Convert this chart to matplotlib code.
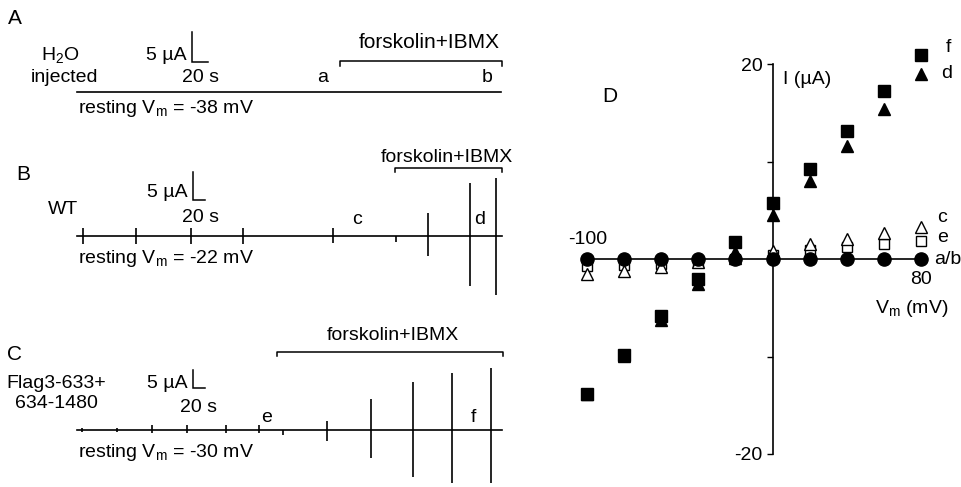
import matplotlib
matplotlib.use("Agg")
import matplotlib.pyplot as plt

plt.rcParams['font.family'] = ['Liberation Sans', 'DejaVu Sans']
plt.rcParams['mathtext.fontset'] = 'custom'
plt.rcParams['mathtext.rm'] = 'Liberation Sans'
plt.rcParams['mathtext.it'] = 'Liberation Sans:italic'

# ---------------- data ----------------
# Panel A (H2O injected): flat trace, no voltage-step deflections
a_trace_len = 508          # s
a_drug = [315, 509]        # s, forskolin+IBMX application

# Panel B (WT)
b_trace_len = 690
b_pulse_t = [8.8, 95.4, 184.4, 270, 416, 519, 571, 638.5, 680]
b_pulse_up = [1.4, 1.4, 1.4, 1.4, 1.5, 0.0, 4.1, 9.5, 10.5]
b_pulse_dn = [1.3, 1.3, 1.3, 1.3, 1.2, 1.1, 3.6, 8.9, 10.4]
b_drug = [517, 691]

# Panel C (Flag3-633 + 634-1480)
c_trace_len = 707
c_pulse_t = [7.3, 66.7, 125, 183, 248, 302, 342, 416, 489, 559, 624, 689]
c_pulse_up = [0.5, 0.5, 1.4, 1.4, 1.4, 1.4, 0.0, 2.5, 8.6, 13.3, 15.8, 17.2]
c_pulse_dn = [0.5, 0.5, 0.8, 0.8, 0.8, 0.8, 1.4, 3.0, 7.8, 13.1, 14.7, 14.7]
c_drug = [332, 709]

# Panel D: I-V relationships
vm = [-100, -80, -60, -40, -20, 0, 20, 40, 60, 80]
i_ab = [0, 0, 0, 0, 0, 0, 0, 0, 0, 0]
i_c = [-1.5, -1.2, -0.85, -0.3, 0.1, 0.8, 1.5, 2.1, 2.7, 3.3]
i_e = [-0.7, -0.6, -0.5, -0.3, 0.0, 0.4, 0.9, 1.2, 1.5, 1.8]
i_d = [-13.8, -9.9, -6.3, -2.6, 0.7, 4.5, 8.0, 11.6, 15.4, 19.0]
i_f = [-13.8, -9.8, -5.8, -2.1, 1.7, 5.7, 9.2, 13.1, 17.2, 20.9]

W, H = 961, 487
fig = plt.figure(figsize=(W / 100, H / 100), dpi=100)
FS = 14


def P(x, y):
    return x / W, 1 - y / H


def txt(x, y, s, ha='center', va='center', size=FS):
    fig.text(*P(x, y), s, ha=ha, va=va, fontsize=size)


def trace_axes(x0, x1, y0, y1, torig, base, sx, sy):
    ax = fig.add_axes([x0 / W, 1 - y1 / H, (x1 - x0) / W, (y1 - y0) / H])
    ax.set_xlim((x0 - torig) / sx, (x1 - torig) / sx)
    ax.set_ylim((base - y1) / sy, (base - y0) / sy)
    ax.axis('off')
    return ax


def scale_bar(ax, torig, base, sx, sy, xpx, ypx):
    t = (xpx - torig) / sx
    i = (base - ypx) / sy
    ax.plot([t, t, t + 20], [i + 5, i, i], color='k', lw=1.1,
            solid_joinstyle='miter', clip_on=False)


def bracket(ax, drug, h, tick):
    ax.plot([drug[0], drug[0], drug[1], drug[1]], [h - tick, h, h, h - tick],
            color='k', lw=1.1, clip_on=False)


LW = 1.2
T0 = 77.3

# ---- Panel A ----
sxA, syA, baseA = 0.835, 6.0, 91.7
axA = trace_axes(60, 520, 20, 125, T0, baseA, sxA, syA)
axA.plot([0, a_trace_len], [0, 0], color='k', lw=LW)
scale_bar(axA, T0, baseA, sxA, syA, 191.5, 61.7)
bracket(axA, a_drug, (baseA - 61) / syA, 5 / syA)
txt(15, 18, 'A', size=15)
txt(60, 60, r'H$_\mathrm{2}$O', va='baseline')
txt(64, 78, 'injected')
txt(187, 55, '5 µA', ha='right')
txt(200, 77, '20 s')
txt(323, 78, 'a')
txt(487, 78, 'b')
txt(78, 113, r'resting V$_\mathrm{m}$ = -38 mV', ha='left', va='baseline')
txt(429, 43, 'forskolin+IBMX', size=15)

# ---- Panel B ----
sxB, syB, baseB = 0.615, 5.6, 236.3
axB = trace_axes(60, 520, 140, 320, T0, baseB, sxB, syB)
axB.plot([0, b_trace_len], [0, 0], color='k', lw=LW)
axB.vlines(b_pulse_t, [-v for v in b_pulse_dn], b_pulse_up, color='k', lw=LW)
scale_bar(axB, T0, baseB, sxB, syB, 192.7, 200)
bracket(axB, b_drug, (baseB - 168.3) / syB, 4 / syB)
txt(23, 175, 'B', size=15)
txt(63, 209, 'WT')
txt(188, 192, '5 µA', ha='right')
txt(200, 217, '20 s')
txt(357, 220, 'c')
txt(480, 219, 'd')
txt(78, 263, r'resting V$_\mathrm{m}$ = -22 mV', ha='left', va='baseline')
txt(447, 157, 'forskolin+IBMX')

# ---- Panel C ----
sxC, syC, baseC = 0.6, 3.6, 430
axC = trace_axes(60, 520, 320, 487, T0, baseC, sxC, syC)
axC.plot([0, c_trace_len], [0, 0], color='k', lw=LW)
axC.vlines(c_pulse_t, [-v for v in c_pulse_dn], c_pulse_up, color='k', lw=LW)
scale_bar(axC, T0, baseC, sxC, syC, 192.7, 388)
bracket(axC, c_drug, (baseC - 351.7) / syC, 4 / syC)
txt(15, 355, 'C', size=15)
txt(56, 383, 'Flag3-633+')
txt(56, 403, '634-1480')
txt(188, 383, '5 µA', ha='right')
txt(199, 408, '20 s')
txt(267, 417, 'e')
txt(473, 417, 'f')
txt(78, 457, r'resting V$_\mathrm{m}$ = -30 mV', ha='left', va='baseline')
txt(393, 335, 'forskolin+IBMX')

# ---- Panel D ----
xs = (921 - 587) / 180.0   # px per mV
ys = 9.75                  # px per uA
left_px = 587 - 10 * xs
right_px = 921 + 20 * xs
top_px = 259 - 23 * ys
bot_px = 259 + 23 * ys
axD = fig.add_axes([left_px / W, 1 - bot_px / H, (right_px - left_px) / W,
                    (bot_px - top_px) / H])
axD.set_xlim(-110, 100)
axD.set_ylim(-23, 23)
axD.patch.set_alpha(0)
for s in ['top', 'right']:
    axD.spines[s].set_visible(False)
axD.spines['left'].set_position(('data', 0))
axD.spines['left'].set_bounds(-20, 20)
axD.spines['bottom'].set_position(('data', 0))
axD.spines['bottom'].set_bounds(-100, 80)
for s in ['left', 'bottom']:
    axD.spines[s].set_linewidth(1.2)
axD.set_xticks([])
axD.set_yticks([-20, -10, 0, 10, 20])
axD.set_yticklabels(['-20', '', '', '', '20'], fontsize=FS)
axD.tick_params(axis='y', direction='out', length=4, width=1, pad=3)

axD.plot(vm, i_f, ls='none', marker='s', ms=8.5, mfc='k', mec='k', zorder=3)
axD.plot(vm, i_d, ls='none', marker='^', ms=9, mfc='k', mec='k', zorder=4)
axD.plot(vm, i_e, ls='none', marker='s', ms=7, mfc='white', mec='k', mew=1, zorder=5)
axD.plot(vm, i_c, ls='none', marker='^', ms=8, mfc='white', mec='k', mew=1, zorder=6)
axD.plot(vm, i_ab, ls='none', marker='o', ms=9.5, mfc='k', mec='k', zorder=7,
         clip_on=False)

txt(610, 96, 'D', size=15)
txt(783, 80, 'I (µA)', ha='left')
txt(588, 239, '-100')
txt(921, 279, '80')
txt(875, 313, r'V$_\mathrm{m}$ (mV)', ha='left', va='baseline')
txt(946, 48, 'f', ha='left')
txt(941, 74, 'd', ha='left')
txt(937, 218, 'c', ha='left')
txt(937, 238, 'e', ha='left')
txt(934, 260, 'a/b', ha='left')

fig.savefig('out.png', dpi=100)
